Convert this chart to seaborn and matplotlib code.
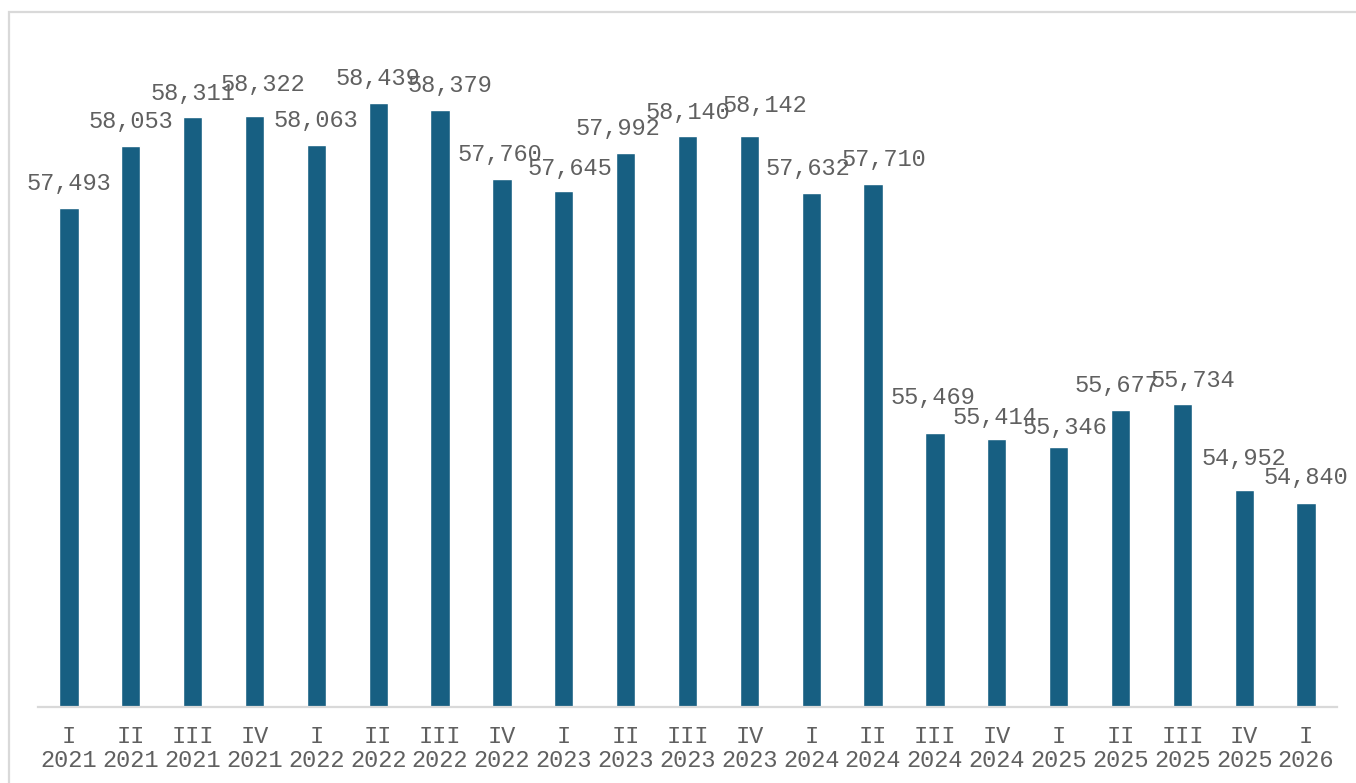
import matplotlib
matplotlib.use("Agg")
import matplotlib.pyplot as plt
from matplotlib.patches import Rectangle
import seaborn as sns
import pandas as pd

# Quarterly series
quarters = ["I", "II", "III", "IV", "I", "II", "III", "IV", "I", "II", "III",
            "IV", "I", "II", "III", "IV", "I", "II", "III", "IV", "I"]
years = ["2021", "2021", "2021", "2021", "2022", "2022", "2022", "2022",
         "2023", "2023", "2023", "2023", "2024", "2024", "2024", "2024",
         "2025", "2025", "2025", "2025", "2026"]
values = [57493, 58053, 58311, 58322, 58063, 58439, 58379, 57760, 57645,
          57992, 58140, 58142, 57632, 57710, 55469, 55414, 55346, 55677,
          55734, 54952, 54840]

# Small per-label nudges (pixels) so neighbouring value labels stay readable
label_dx = [0, 0, 0, 8, 0, 0, 10, -2, 6, -8, 0, 16, -3, 11, -2, -2, 6, -4, 11, 0, 0]
label_dy = [0, 0, -1, 7, 0, 0, 0, 0, -2, 0, -1, 6, 0, 0, 11, -3, -5, 0, -1, 7, 1]

categories = [f"{q}\n{y}" for q, y in zip(quarters, years)]
df = pd.DataFrame({"period": categories, "value": values})

BAR = "#175F82"
TEXT = "#606060"
GRID = "#D9D9D9"
FONT = "Liberation Mono"

sns.set_theme(style="white")
plt.rcParams["font.family"] = [FONT, "DejaVu Sans Mono"]

W, H = 1356, 783
fig = plt.figure(figsize=(W / 100, H / 100), dpi=100)
ax = fig.add_axes([38 / W, (H - 707) / H, 1299 / W, (707 - 41) / H])

sns.barplot(data=df, x="period", y="value", order=categories, color=BAR,
            saturation=1, width=0.31, ax=ax, errorbar=None)

ax.set_xlim(-0.5, len(values) - 0.5)
ax.set_ylim(53000, 59000)
ax.set_xlabel("")
ax.set_ylabel("")
ax.set_yticks([])
for side in ("left", "right", "top"):
    ax.spines[side].set_visible(False)
ax.spines["bottom"].set_color(GRID)
ax.spines["bottom"].set_linewidth(1.6)
ax.tick_params(axis="x", length=0, pad=13, labelsize=17, labelcolor=TEXT)
for lbl in ax.get_xticklabels():
    lbl.set_fontfamily(FONT)
    lbl.set_linespacing(1.05)

for i, v in enumerate(values):
    ax.annotate(f"{v:,}", xy=(i, v), xytext=(label_dx[i], 18 + label_dy[i]),
                textcoords="offset pixels", ha="center", va="baseline",
                fontsize=17, color=TEXT, fontfamily=FONT, annotation_clip=False)

# Light frame around the chart area
fig.add_artist(Rectangle((9 / W, -0.1), 1.2, (H - 12) / H + 0.1,
                         transform=fig.transFigure, fill=False,
                         edgecolor=GRID, linewidth=1.6, clip_on=False))

fig.savefig("out.png", dpi=100)
